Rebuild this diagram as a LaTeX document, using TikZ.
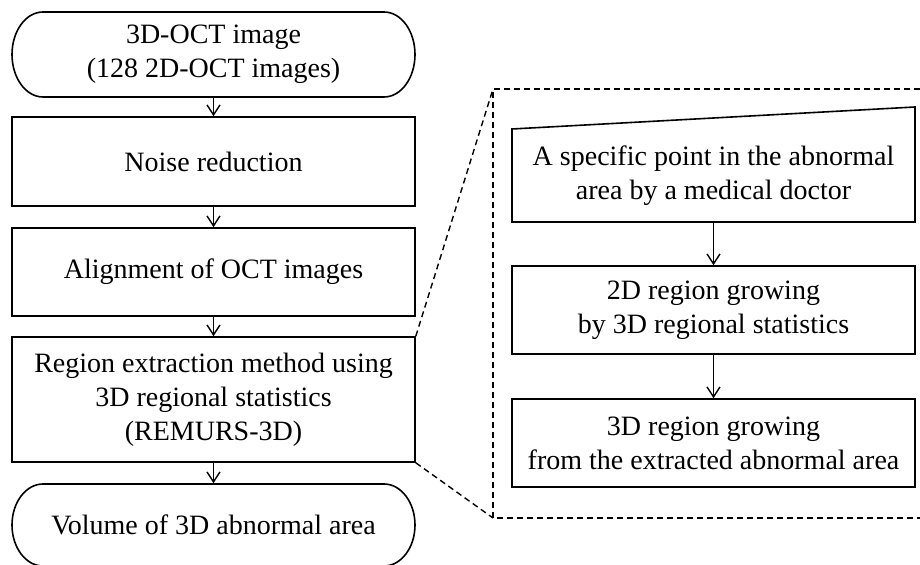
\documentclass[tikz,border=0pt]{standalone}
\usepackage{fontspec}
\setmainfont{Liberation Serif}
\usetikzlibrary{arrows.meta}
\begin{document}
\begin{tikzpicture}[x=0.5pt,y=0.5pt,
  line width=0.8pt,
  txt/.style={font=\fontsize{14pt}{17pt}\selectfont, align=center, inner sep=0pt},
  box/.style={txt, draw, rectangle, minimum width=201.5pt},
  ghost/.style={txt, rectangle, minimum width=201.5pt},
  arr/.style={line width=0.7pt, -{Straight Barb[length=5pt,width=6.5pt,line width=0.7pt]}},
  dashline/.style={dash pattern=on 3pt off 2pt, line width=0.7pt}]
\useasboundingbox (0,0) rectangle (920,-565);
% left column
\node[ghost, minimum height=42.5pt] (t1) at (213.5,-54.5) {3D-OCT image\\(128 2D-OCT images)};
\draw (43,-12) -- (384,-12) .. controls (401.1,-12) and (415,-31) .. (415,-54.5)
  .. controls (415,-78) and (401.1,-97) .. (384,-97) -- (43,-97)
  .. controls (25.9,-97) and (12,-78) .. (12,-54.5)
  .. controls (12,-31) and (25.9,-12) .. (43,-12) -- cycle;
\node[box, minimum height=44.5pt] (noise) at (213.5,-161.5) {Noise reduction};
\node[box, minimum height=44pt] (align) at (213.5,-272) {Alignment of OCT images};
\node[box, minimum height=62.5pt] (reg) at (213.5,-399.5) {Region extraction method using\\3D regional statistics\\(REMURS-3D)};
\node[ghost, minimum height=41pt] (t2) at (213.5,-525) {Volume of 3D abnormal area};
\draw (43,-484) -- (384,-484) .. controls (401.1,-484) and (415,-502.4) .. (415,-525)
  .. controls (415,-547.6) and (401.1,-566) .. (384,-566) -- (43,-566)
  .. controls (25.9,-566) and (12,-547.6) .. (12,-525)
  .. controls (12,-502.4) and (25.9,-484) .. (43,-484) -- cycle;
\draw[arr] (t1.south) -- (noise.north);
\draw[arr] (noise.south) -- (align.north);
\draw[arr] (align.south) -- (reg.north);
\draw[arr] (reg.south) -- (t2.north);
% right column
\coordinate (dtl) at (493,-89);
\coordinate (dbl) at (493,-518);
\draw[dashline] (930,-89) -- (dtl) -- (dbl) -- (930,-518);
\draw[dashline] (reg.north east) -- (dtl);
\draw[dashline] (reg.south east) -- (dbl);
\node[ghost, minimum height=46.5pt] (b1) at (713.5,-175.5) {A specific point in the abnormal\\area by a medical doctor};
\draw (512,-129) -- (915,-107) -- (915,-222) -- (512,-222) -- cycle;
\node[box, minimum height=44pt] (b2) at (713.5,-310) {2D region growing\\by 3D regional statistics};
\node[box, minimum height=44pt] (b3) at (713.5,-443) {3D region growing\\from the extracted abnormal area};
\draw[arr] (b1.south) -- (b2.north);
\draw[arr] (b2.south) -- (b3.north);
\end{tikzpicture}
\end{document}
